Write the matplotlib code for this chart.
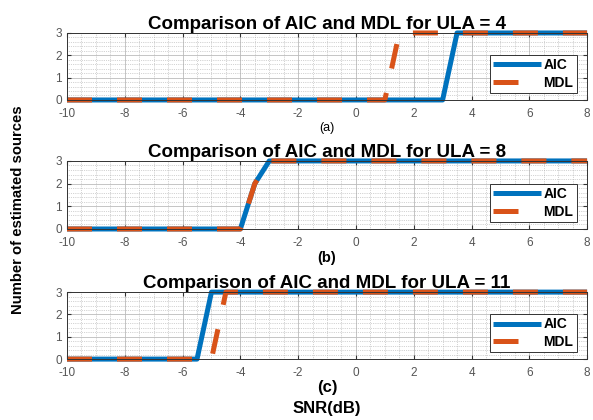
import matplotlib
matplotlib.use("Agg")
import matplotlib.pyplot as plt
from matplotlib.ticker import MultipleLocator

plt.rcParams['font.family'] = ['Liberation Sans', 'DejaVu Sans']
plt.rcParams['axes.unicode_minus'] = False

# Data (breakpoints), SNR in dB
snr_a_aic = [-10, 3.0, 3.5, 8]
est_a_aic = [0, 0, 3, 3]
snr_a_mdl = [-10, 1.0, 1.5, 8]
est_a_mdl = [0, 0, 3, 3]

snr_b_aic = [-10, -4.0, -3.5, -3.0, 8]
est_b_aic = [0, 0, 2, 3, 3]
snr_b_mdl = [-10, -4.0, -3.5, -3.0, 8]
est_b_mdl = [0, 0, 2, 3, 3]

snr_c_aic = [-10, -5.5, -5.0, 8]
est_c_aic = [0, 0, 3, 3]
snr_c_mdl = [-10, -5.0, -4.5, 8]
est_c_mdl = [0, 0, 3, 3]

titles = ["Comparison of AIC and MDL for ULA = 4",
          "Comparison of AIC and MDL for ULA = 8",
          "Comparison of AIC and MDL for ULA = 11"]
sublabels = ["(a)", "(b)", "(c)"]
xticks = [-10, -8, -6, -4, -2, 0, 2, 4, 6, 8]
yticks = [0, 1, 2, 3]

BLUE = '#0072BD'
ORANGE = '#D95319'

fig = plt.figure(figsize=(5.93, 4.2), dpi=100)

# axes rectangles [left, bottom, width, height] in figure fraction
rects = [[0.113, 0.762, 0.877, 0.1595],
         [0.113, 0.4548, 0.877, 0.162],
         [0.113, 0.145, 0.877, 0.1595]]

series = [(snr_a_aic, est_a_aic, snr_a_mdl, est_a_mdl),
          (snr_b_aic, est_b_aic, snr_b_mdl, est_b_mdl),
          (snr_c_aic, est_c_aic, snr_c_mdl, est_c_mdl)]

sub_styles = [dict(fontsize=9, fontweight='normal'),
              dict(fontsize=10.5, fontweight='bold'),
              dict(fontsize=12, fontweight='bold')]

for i, (rect, (xa, ya, xm, ym)) in enumerate(zip(rects, series)):
    ax = fig.add_axes(rect)
    ax.plot(xa, ya, color=BLUE, lw=3.6, label='AIC', solid_capstyle='butt',
            clip_on=False)
    ax.plot(xm, ym, color=ORANGE, lw=3.6, label='MDL', dashes=(5, 5),
            dash_capstyle='butt', clip_on=False)
    ax.set_xlim(-10, 8)
    ax.set_ylim(0, 3)
    ax.set_xticks(xticks)
    ax.set_yticks(yticks)
    ax.xaxis.set_minor_locator(MultipleLocator(0.5))
    ax.yaxis.set_minor_locator(MultipleLocator(0.2))
    ax.grid(True, which='major', color='#bbbbbb', lw=0.6, ls='-')
    ax.grid(True, which='minor', color='#aaaaaa', lw=0.5, ls=':')
    ax.set_axisbelow(True)
    ax.tick_params(which='major', direction='in', length=3, top=True, right=True,
                   labelsize=8.5, labelcolor='#555555', color='#333333')
    ax.tick_params(axis='x', which='major', pad=5.5)
    ax.tick_params(axis='y', which='major', pad=3.5)
    ax.tick_params(which='minor', length=0)
    for sp in ax.spines.values():
        sp.set_color('#333333')
        sp.set_linewidth(0.7)
    ax.set_title(titles[i], fontsize=13.5, fontweight='bold', pad=3)
    ax.text(0.5, -0.42, sublabels[i], transform=ax.transAxes, ha='center',
            va='center', **sub_styles[i])
    leg = ax.legend(loc='lower right', bbox_to_anchor=(0.98, 0.1),
                    prop={'weight': 'bold', 'size': 10}, handlelength=3.4,
                    handletextpad=0.2, borderpad=0.25, labelspacing=0.25,
                    fancybox=False, framealpha=1, edgecolor='#333333',
                    borderaxespad=0)
    leg.get_frame().set_linewidth(0.7)
    leg.set_zorder(5)

fig.text(0.551, 0.027, "SNR(dB)", ha='center', va='center', fontsize=12,
         fontweight='bold')
fig.text(0.03, 0.50, "Number of estimated sources", ha='center', va='center',
         rotation=90, fontsize=10.7, fontweight='bold')

fig.savefig("out.png", dpi=100)
